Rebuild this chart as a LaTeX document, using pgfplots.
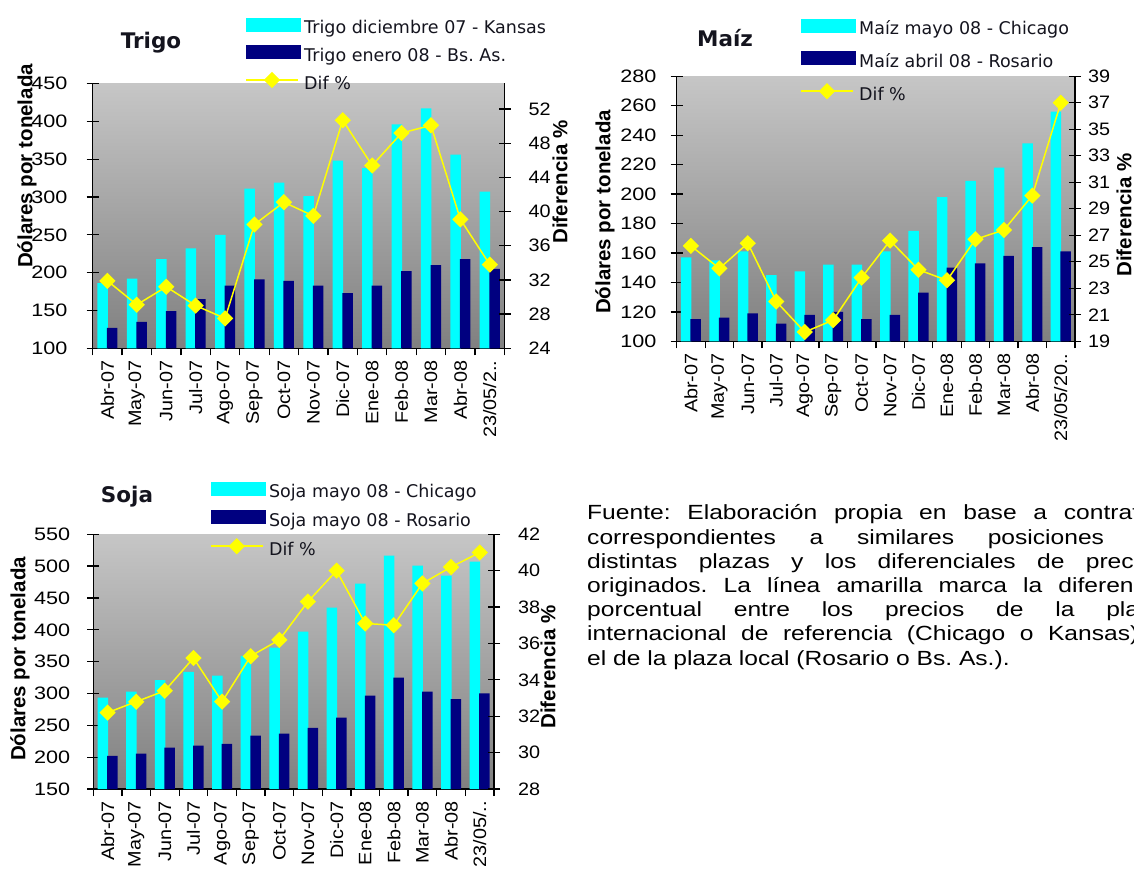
\documentclass[border=0pt]{standalone}
\usepackage{pgfplots}
\pgfplotsset{compat=1.18}
\usepackage{fontspec}
\setmainfont{Liberation Sans}
\newfontfamily\wide{Liberation Sans}[FakeStretch=1.2]
\newfontfamily\wideb{Liberation Sans}[FakeStretch=1.1]
\newfontfamily\leg{DejaVu Sans}
\definecolor{cy}{RGB}{0,255,255}
\definecolor{nv}{RGB}{0,0,128}
\definecolor{yl}{RGB}{255,255,0}
\definecolor{bgt}{RGB}{198,198,198}
\definecolor{bgb}{RGB}{128,128,128}
\definecolor{txt}{RGB}{20,20,30}
\newcommand\ltf{\wide\fontsize{18}{18}\selectfont}
\newcommand\rtf{\wideb\fontsize{18}{18}\selectfont}
\newcommand\xtf{\wideb\fontsize{18}{18}\selectfont}
\newcommand\ttl{\leg\bfseries\fontsize{21.5}{21.5}\selectfont}
\newcommand\ylf{\bfseries\fontsize{20.5}{20.5}\selectfont}
\pgfplotsset{
  common/.style={scale only axis, xmin=-0.5, xmax=13.5, tick align=outside,
    major tick length=12pt, minor tick length=7pt,
    /pgf/number format/assume math mode=true, clip=false},
  leftax/.style={common,
    axis y line*=left, axis x line*=bottom,
    axis line style={line width=1.4pt, -},
    axis background/.style={shade, top color=bgt, bottom color=bgb},
    xtick={0,...,13},
    minor xtick={-0.5,0.5,...,13.5},
    major x tick style={draw=none},
    minor x tick style={line width=1.3pt, black},
    major y tick style={line width=1.3pt, black, xshift=6pt},
    xticklabel style={font=\xtf, rotate=90, anchor=east, inner sep=0pt},
    yticklabel style={font=\ltf, anchor=east, inner sep=0pt}},
  rightax/.style={common,
    axis y line*=right, axis x line=none,
    axis line style={line width=1.4pt, -},
    major y tick style={line width=1.3pt, black, xshift=-6pt},
    yticklabel style={font=\rtf, anchor=west, inner sep=0pt},
    legend cell align=left},
  legst/.style={legend style={draw=none, fill=none, inner sep=0pt, column sep=4pt,
    font=\leg\fontsize{17.5}{17.5}\selectfont, text=txt,
    nodes={inner sep=0pt, text height=13pt, text depth=4pt}, anchor=north west}},
  swcy/.style={legend image code/.code={\fill[cy] (0pt,-1.5pt) rectangle (54pt,11.5pt);}},
  swnv/.style={legend image code/.code={\fill[nv] (0pt,-1.5pt) rectangle (54pt,11.5pt);}},
  difline/.style={color=yl, line width=1.5pt, mark=square*, mark size=5pt,
    mark options={rotate=45, fill=yl, draw=yl, solid},
    legend image code/.code={\draw[mark repeat=2,mark phase=2,##1] plot coordinates {(0pt,5pt) (26pt,5pt) (52pt,5pt)};}},
  cybar/.style={ybar, bar width=10.5pt, bar shift=-4.8pt, fill=cy, draw=none},
  nvbar/.style={ybar, bar width=10.5pt, bar shift=4.8pt, fill=nv, draw=none},
}
\begin{document}
\frenchspacing
\begin{tikzpicture}[x=1pt,y=1pt]
% ================= TRIGO =================
\begin{axis}[leftax, at={(92.7pt,532.7pt)}, anchor=south west, width=411.8pt, height=264.8pt,
  ymin=100, ymax=450, ytick={100,150,...,450}, yticklabel style={xshift=-13pt},
  xticklabels={Abr-07,May-07,Jun-07,Jul-07,Ago-07,Sep-07,Oct-07,Nov-07,Dic-07,Ene-08,Feb-08,Mar-08,Abr-08,23/05/2..}]
\addplot[cybar] coordinates {(0,186) (1,192) (2,218) (3,232) (4,250) (5,311) (6,319) (7,301) (8,348) (9,338) (10,396) (11,417) (12,356) (13,307)};
\addplot[nvbar] coordinates {(0,127) (1,135) (2,149) (3,165) (4,183) (5,191) (6,189) (7,183) (8,173) (9,183) (10,202) (11,210) (12,218) (13,205)};
\end{axis}
\begin{axis}[rightax, legst, at={(92.7pt,532.7pt)}, anchor=south west, width=411.8pt, height=264.8pt,
  ymin=24, ymax=55, ytick={24,28,...,52}, yticklabel style={xshift=12pt},
  legend style={at={(axis description cs:0.370,1.2497)}, row sep=7.5pt}]
\addlegendimage{swcy}
\addlegendimage{swnv}
\addplot[difline] coordinates {(0,31.9) (1,29.1) (2,31.2) (3,29.0) (4,27.5) (5,38.5) (6,41.1) (7,39.5) (8,50.7) (9,45.4) (10,49.2) (11,50.1) (12,39.1) (13,33.8)};
\legend{Trigo diciembre 07 - Kansas, Trigo enero 08 - Bs. As., Dif \%}
\end{axis}
\node[font=\ttl, text=txt] at (151,838) {Trigo};
\node[font=\ylf, rotate=90] at (27,715) {Dólares por tonelada};
\node[font=\ylf, rotate=90] at (560,699) {Diferencia \%};
% ================= MAIZ =================
\begin{axis}[leftax, at={(676.7pt,539.7pt)}, anchor=south west, width=398.3pt, height=265pt,
  ymin=100, ymax=280, ytick={100,120,...,280}, yticklabel style={xshift=-8pt},
  xticklabels={Abr-07,May-07,Jun-07,Jul-07,Ago-07,Sep-07,Oct-07,Nov-07,Dic-07,Ene-08,Feb-08,Mar-08,Abr-08,23/05/20..}]
\addplot[cybar] coordinates {(0,157) (1,155) (2,161) (3,145) (4,147.5) (5,152) (6,152) (7,161) (8,175) (9,198) (10,209) (11,218) (12,234.5) (13,256)};
\addplot[nvbar] coordinates {(0,115) (1,116) (2,119) (3,112) (4,118) (5,120) (6,115) (7,118) (8,133) (9,150) (10,153) (11,158) (12,164) (13,161)};
\end{axis}
\begin{axis}[rightax, legst, at={(676.7pt,539.7pt)}, anchor=south west, width=398.3pt, height=265pt,
  ymin=19, ymax=39, ytick={19,21,...,39}, yticklabel style={xshift=1pt},
  legend style={at={(axis description cs:0.3096,1.218)}, row sep=12.5pt}]
\addlegendimage{swcy}
\addlegendimage{swnv}
\addplot[difline] coordinates {(0,26.2) (1,24.5) (2,26.4) (3,22.0) (4,19.7) (5,20.6) (6,23.8) (7,26.6) (8,24.4) (9,23.6) (10,26.7) (11,27.4) (12,30.0) (13,37.0)};
\legend{Maíz mayo 08 - Chicago, Maíz abril 08 - Rosario, Dif \%}
\end{axis}
\node[font=\ttl, text=txt] at (725,843) {Maíz};
\node[font=\ylf, rotate=90] at (605,669) {Dólares por tonelada};
\node[font=\ylf, rotate=90] at (1124,666) {Diferencia \%};
% ================= SOJA =================
\begin{axis}[leftax, at={(93.3pt,92pt)}, anchor=south west, width=400.7pt, height=254.7pt,
  ymin=150, ymax=550, ytick={150,200,...,550}, yticklabel style={xshift=-11pt},
  xticklabels={Abr-07,May-07,Jun-07,Jul-07,Ago-07,Sep-07,Oct-07,Nov-07,Dic-07,Ene-08,Feb-08,Mar-08,Abr-08,23/05/..}]
\addplot[cybar] coordinates {(0,293.5) (1,303) (2,321) (3,334) (4,328) (5,359) (6,372) (7,397) (8,435) (9,472.5) (10,516.5) (11,501) (12,485) (13,507)};
\addplot[nvbar] coordinates {(0,202) (1,205.5) (2,215) (3,218) (4,221) (5,234) (6,237) (7,246) (8,262) (9,296.6) (10,325) (11,303) (12,291) (13,300)};
\end{axis}
\begin{axis}[rightax, legst, at={(93.3pt,92pt)}, anchor=south west, width=400.7pt, height=254.7pt,
  ymin=28, ymax=42, ytick={28,30,...,42}, yticklabel style={xshift=12pt},
  legend style={at={(axis description cs:0.291,1.207)}, row sep=8.5pt}]
\addlegendimage{swcy}
\addlegendimage{swnv}
\addplot[difline] coordinates {(0,32.2) (1,32.8) (2,33.4) (3,35.2) (4,32.8) (5,35.3) (6,36.2) (7,38.3) (8,40.0) (9,37.1) (10,37.0) (11,39.3) (12,40.2) (13,41.0)};
\legend{Soja mayo 08 - Chicago, Soja mayo 08 - Rosario, Dif \%}
\end{axis}
\node[font=\ttl, text=txt] at (127,384) {Soja};
\node[font=\ylf, rotate=90] at (20,222) {Dólares por tonelada};
\node[font=\ylf, rotate=90] at (548,214) {Diferencia \%};
% ================= TEXT =================
\node[anchor=base west, inner sep=0pt] at (587,361) {\parbox[t]{620pt}{\wide\fontsize{20.5}{24.2}\selectfont\frenchspacing
\makebox[578pt][s]{Fuente: Elaboración propia en base a contratos}\\
\makebox[578pt][s]{correspondientes a similares posiciones en}\\
\makebox[578pt][s]{distintas plazas y los diferenciales de precios}\\
\makebox[578pt][s]{originados. La línea amarilla marca la diferencia}\\
\makebox[578pt][s]{porcentual entre los precios de la plaza}\\
\makebox[578pt][s]{internacional de referencia (Chicago o Kansas) y}\\
el de la plaza local (Rosario o Bs. As.).}};
\pgfresetboundingbox
\useasboundingbox (0,0) rectangle (1134,881);
\end{tikzpicture}
\end{document}
